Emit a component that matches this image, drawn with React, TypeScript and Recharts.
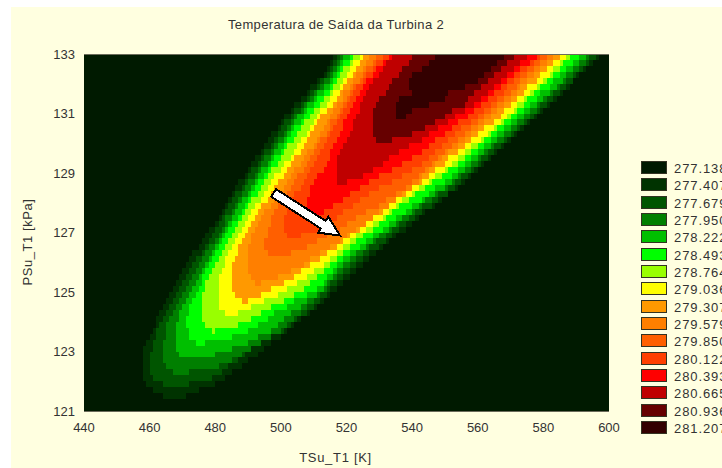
import { Bar, BarChart, CartesianGrid, ReferenceLine, XAxis, YAxis } from 'recharts'

const TITLE = 'Temperatura de Saída da Turbina 2'
const X_TICKS = [440, 460, 480, 500, 520, 540, 560, 580, 600]
const Y_TICKS = [121, 123, 125, 127, 129, 131, 133]

const LEGEND_LABELS = ['277.138', '277.407', '277.679', '277.950', '278.222', '278.493', '278.764', '279.036', '279.307', '279.579', '279.850', '280.122', '280.393', '280.665', '280.936', '281.207']
const LEGEND_COLORS = ['#001a00', '#003300', '#005500', '#007f00', '#00bf00', '#00ff00', '#99ff00', '#ffff00', '#ff9900', '#ff7f00', '#ff5f00', '#ff3f00', '#ff0000', '#bf0000', '#660000', '#330000']

// grid rows, top to bottom [kPa]
const PRESSURE = [
  132.9, 132.7, 132.5, 132.3, 132.1, 131.9, 131.7, 131.5, 131.3, 131.1,
  130.9, 130.7, 130.5, 130.3, 130.1, 129.9, 129.7, 129.5, 129.3, 129.1,
  128.9, 128.7, 128.5, 128.3, 128.1, 127.9, 127.7, 127.5, 127.3, 127.1,
  126.9, 126.7, 126.5, 126.3, 126.1, 125.9, 125.7, 125.5, 125.3, 125.1,
  124.9, 124.7, 124.5, 124.3, 124.1, 123.9, 123.7, 123.5, 123.3, 123.1,
  122.9, 122.7, 122.5, 122.3, 122.1, 121.9, 121.7, 121.5, 121.3, 121.1,
]

// contour limits per row [K], each band starts at the top row
const B1_LEFT = [516, 515, 514, 513, 511, 509, 508, 506, 504, 503, 501, 500, 499, 497, 496, 495, 494, 492, 491, 490, 489, 487, 486, 485, 484, 483, 482, 481, 480, 478, 477, 476, 475, 473, 472, 471, 470, 469, 468, 467, 466, 465, 464, 463, 462, 462, 461, 460, 459, 458, 458, 458, 458, 458, 458, 459, 461, 464]
const B1_RIGHT = [597, 595, 593, 591, 589, 588, 586, 584, 582, 580, 578, 576, 574, 572, 570, 568, 566, 564, 562, 560, 558, 556, 554, 551, 549, 547, 544, 542, 540, 538, 535, 533, 531, 529, 527, 525, 523, 521, 519, 517, 515, 513, 511, 509, 506, 504, 502, 500, 497, 495, 493, 490, 488, 485, 483, 480, 475, 471]
const B2_LEFT = [517, 516, 515, 514, 512, 511, 509, 508, 506, 504, 503, 501, 500, 499, 498, 497, 495, 494, 493, 491, 490, 489, 488, 486, 485, 484, 483, 482, 481, 480, 479, 478, 477, 476, 474, 473, 472, 471, 470, 469, 468, 467, 466, 465, 464, 463, 462, 462, 461, 461, 460, 460, 460, 460, 461, 464]
const B2_RIGHT = [596, 594, 592, 590, 589, 587, 585, 583, 581, 579, 577, 575, 573, 571, 569, 567, 565, 563, 561, 559, 557, 555, 553, 551, 548, 546, 543, 541, 538, 536, 534, 532, 530, 527, 525, 523, 521, 519, 517, 515, 514, 512, 510, 508, 505, 503, 501, 497, 494, 491, 489, 487, 484, 482, 479, 472]
const B3_LEFT = [518, 517, 516, 515, 513, 512, 510, 509, 507, 506, 504, 503, 502, 501, 499, 498, 497, 495, 494, 493, 492, 490, 489, 488, 487, 486, 485, 483, 483, 482, 481, 480, 478, 477, 476, 475, 474, 473, 472, 471, 470, 469, 468, 467, 466, 465, 465, 465, 464, 464, 464, 464, 465, 467]
const B3_RIGHT = [594, 593, 591, 589, 587, 585, 583, 581, 579, 578, 576, 574, 572, 570, 568, 565, 563, 561, 560, 558, 555, 553, 551, 548, 546, 543, 541, 539, 536, 534, 532, 529, 527, 525, 523, 521, 519, 517, 515, 514, 512, 510, 508, 506, 504, 502, 500, 497, 494, 491, 488, 485, 481, 472]
const B4_LEFT = [519, 518, 517, 516, 515, 513, 511, 510, 508, 507, 505, 504, 503, 502, 501, 499, 498, 497, 496, 494, 493, 492, 491, 490, 488, 487, 486, 485, 484, 483, 482, 481, 480, 479, 478, 477, 476, 475, 474, 473, 472, 471, 470, 469, 469, 468, 468, 468, 468, 468, 469]
const B4_RIGHT = [593, 591, 589, 587, 586, 584, 582, 580, 578, 576, 574, 572, 570, 568, 566, 564, 562, 560, 558, 556, 554, 552, 550, 547, 544, 542, 540, 537, 535, 533, 530, 528, 526, 523, 521, 519, 517, 516, 514, 513, 511, 508, 506, 503, 501, 499, 497, 493, 490, 485, 480]
const B5_LEFT = [521, 519, 518, 517, 516, 515, 513, 511, 510, 508, 507, 506, 504, 503, 502, 501, 500, 498, 497, 496, 495, 493, 492, 491, 490, 489, 488, 487, 485, 484, 483, 482, 481, 480, 479, 478, 477, 476, 476, 475, 474, 473, 472, 472, 471, 471, 472, 472, 474]
const B5_RIGHT = [591, 589, 587, 585, 583, 582, 579, 578, 576, 574, 572, 570, 568, 566, 564, 562, 560, 558, 556, 554, 552, 550, 547, 545, 543, 540, 538, 535, 533, 531, 528, 526, 524, 521, 519, 517, 516, 514, 513, 511, 508, 504, 502, 498, 496, 493, 490, 485, 477]
const B6_LEFT = [522, 521, 519, 518, 517, 516, 515, 513, 512, 510, 509, 507, 506, 505, 504, 502, 501, 500, 499, 497, 496, 495, 494, 493, 491, 490, 489, 488, 487, 486, 485, 484, 483, 482, 481, 480, 479, 478, 477, 477, 476, 476, 476, 476, 476, 477, 479]
const B6_RIGHT = [588, 586, 585, 583, 581, 579, 577, 575, 574, 572, 570, 568, 566, 564, 562, 560, 558, 556, 554, 551, 549, 546, 544, 541, 539, 536, 534, 532, 530, 528, 525, 523, 521, 519, 517, 515, 513, 511, 509, 507, 504, 501, 497, 494, 491, 487, 480]
const B7_LEFT = [524, 522, 521, 520, 519, 518, 516, 515, 514, 512, 511, 510, 509, 508, 506, 505, 504, 503, 501, 500, 498, 497, 496, 495, 494, 492, 491, 490, 489, 488, 487, 486, 485, 484, 483, 483, 482, 481, 481, 481, 481, 481, 481, 483]
const B7_RIGHT = [587, 585, 583, 582, 580, 578, 576, 574, 572, 571, 569, 567, 565, 563, 561, 558, 556, 554, 552, 550, 547, 545, 542, 540, 537, 535, 533, 531, 528, 526, 523, 521, 519, 517, 515, 513, 510, 508, 505, 502, 499, 495, 491, 487]
const B8_LEFT = [525, 524, 523, 522, 520, 519, 518, 517, 516, 514, 512, 511, 510, 509, 508, 507, 506, 504, 503, 502, 501, 499, 498, 497, 496, 494, 493, 492, 491, 490, 489, 488, 487, 487, 486, 485, 485, 485, 485, 485, 486, 488]
const B8_RIGHT = [585, 583, 581, 579, 578, 575, 574, 572, 570, 568, 567, 565, 562, 560, 558, 556, 554, 551, 550, 547, 545, 543, 540, 538, 535, 533, 531, 528, 526, 524, 521, 519, 517, 514, 512, 509, 506, 504, 501, 497, 494, 490]
const B9_LEFT = [527, 526, 525, 523, 522, 521, 519, 519, 517, 516, 515, 514, 513, 512, 511, 510, 508, 507, 506, 504, 503, 502, 501, 499, 498, 497, 495, 494, 493, 492, 491, 491, 490, 490, 490, 490, 490, 491, 492]
const B9_RIGHT = [583, 581, 579, 577, 575, 573, 572, 570, 568, 566, 564, 562, 560, 558, 556, 554, 551, 549, 547, 545, 543, 542, 540, 537, 535, 533, 530, 528, 526, 523, 520, 518, 515, 512, 509, 507, 503, 499, 494]
const B10_LEFT = [529, 528, 526, 525, 524, 522, 521, 520, 519, 518, 517, 515, 515, 514, 512, 511, 510, 509, 508, 507, 505, 504, 503, 502, 501, 499, 498, 497, 497, 496, 496, 495, 495, 496]
const B10_RIGHT = [581, 579, 577, 575, 573, 572, 570, 568, 566, 564, 562, 560, 558, 556, 554, 552, 550, 548, 546, 544, 542, 540, 538, 535, 532, 530, 526, 523, 520, 518, 514, 511, 508, 503]
const B11_LEFT = [531, 529, 528, 526, 525, 523, 522, 521, 520, 519, 518, 517, 516, 515, 514, 513, 512, 511, 510, 509, 508, 507, 506, 504, 503, 502, 502, 501, 501, 501, 502]
const B11_RIGHT = [579, 577, 575, 573, 571, 569, 568, 566, 564, 562, 560, 558, 555, 553, 551, 549, 547, 545, 543, 540, 537, 534, 530, 527, 524, 522, 519, 517, 515, 512, 506]
const B12_LEFT = [533, 531, 529, 528, 526, 525, 524, 523, 522, 521, 520, 519, 519, 518, 517, 516, 515, 515, 514, 513, 511, 510, 509, 509, 508, 508, 509]
const B12_RIGHT = [578, 576, 573, 571, 569, 567, 565, 563, 561, 559, 557, 554, 552, 550, 547, 545, 543, 540, 537, 534, 530, 527, 524, 521, 519, 516, 513]
const B13_LEFT = [534, 532, 531, 530, 528, 527, 526, 525, 524, 524, 523, 522, 522, 521, 520, 519, 518, 517, 517, 517, 517, 517]
const B13_RIGHT = [575, 573, 571, 569, 567, 565, 563, 561, 559, 556, 553, 551, 548, 545, 543, 539, 536, 533, 531, 528, 525, 520]
const B14_LEFT = [540, 539, 537, 536, 534, 533, 532, 530, 529, 528, 528, 528, 528, 528, 529]
const B14_RIGHT = [571, 569, 567, 565, 563, 561, 559, 557, 556, 552, 550, 547, 544, 540, 534]
const B15_LEFT = [547, 545, 543, 540, 539, 539, 540, 536, 535, 535, 535]
const B15_RIGHT = [568, 566, 564, 562, 560, 556, 551, 550, 545, 540, 538]

const BANDS = [
  [B1_LEFT, B1_RIGHT], [B2_LEFT, B2_RIGHT], [B3_LEFT, B3_RIGHT], [B4_LEFT, B4_RIGHT], [B5_LEFT, B5_RIGHT],
  [B6_LEFT, B6_RIGHT], [B7_LEFT, B7_RIGHT], [B8_LEFT, B8_RIGHT], [B9_LEFT, B9_RIGHT], [B10_LEFT, B10_RIGHT],
  [B11_LEFT, B11_RIGHT], [B12_LEFT, B12_RIGHT], [B13_LEFT, B13_RIGHT], [B14_LEFT, B14_RIGHT], [B15_LEFT, B15_RIGHT],
]

// annotation arrow [K, kPa]
const ARROW_FROM = { x: 497.8, y: 128.33 }
const ARROW_TO = { x: 518, y: 126.9 }

const FONT = '"Liberation Sans", Arial, sans-serif'
const TEXT_COLOR = '#333333'
const FRAME_COLOR = '#6b6b5a'
const ROW_SIZE = 5.949

const chartData = PRESSURE.map((p, i) => {
  const row: Record<string, number | number[]> = { p }
  BANDS.forEach(([left, right], b) => {
    if (i < left.length) row[`b${b}`] = [left[i], right[i]]
  })
  return row
})

function ArrowShape({ x1, y1, x2, y2 }: any) {
  const len = Math.hypot(x2 - x1, y2 - y1)
  const ux = (x2 - x1) / len
  const uy = (y2 - y1) / len
  const at = (along: number, across: number) =>
    `${x1 + ux * along - uy * across},${y1 + uy * along + ux * across}`
  const neck = len - 20
  const points = [
    at(0, -4.5),
    at(neck, -4.5),
    at(neck, -9.5),
    at(len, 0),
    at(neck, 9.5),
    at(neck, 4.5),
    at(0, 4.5),
  ].join(' ')
  return <polygon points={points} fill="#ffffff" stroke="#000000" strokeWidth={2} strokeLinejoin="miter" />
}

function ColorLegend() {
  return (
    <div style={{ position: 'absolute', left: 641, top: 161, fontFamily: FONT, fontSize: 13, color: TEXT_COLOR }}>
      {LEGEND_LABELS.map((label, i) => (
        <div key={label} style={{ position: 'absolute', top: i * 17.33, left: 0, height: 13, whiteSpace: 'nowrap' }}>
          <span
            style={{
              position: 'absolute',
              left: 0,
              top: 0,
              width: 24,
              height: 11,
              background: LEGEND_COLORS[i],
              border: '1px solid #333322',
            }}
          />
          <span style={{ position: 'absolute', left: 33, top: 0, lineHeight: '15px', letterSpacing: 0.9 }}>{label}</span>
        </div>
      ))}
    </div>
  )
}

export default function App() {
  return (
    <div style={{ position: 'absolute', left: 0, top: 0, width: 722, height: 468, overflow: 'hidden', background: '#ffffff' }}>
      <div style={{ position: 'absolute', left: 11, top: 7, right: 0, bottom: 0, background: '#ffffe0' }} />
      <div
        style={{
          position: 'absolute',
          left: 0,
          width: 672,
          top: 17,
          textAlign: 'center',
          fontFamily: FONT,
          fontSize: 13,
          letterSpacing: 0.35,
          lineHeight: '16px',
          color: TEXT_COLOR,
        }}
      >
        {TITLE}
      </div>
      <div style={{ position: 'absolute', left: 0, top: 0, shapeRendering: 'crispEdges' }}>
        <BarChart
          width={722}
          height={468}
          layout="vertical"
          data={chartData}
          barGap={-ROW_SIZE}
          margin={{ top: 54.02, right: 113, bottom: 0, left: 0 }}
        >
          <CartesianGrid horizontal={false} vertical={false} fill={LEGEND_COLORS[0]} fillOpacity={1} />
          <XAxis
            type="number"
            domain={[440, 600]}
            ticks={X_TICKS}
            height={57}
            interval={0}
            allowDataOverflow
            tickLine={false}
            tickMargin={6}
            axisLine={{ stroke: FRAME_COLOR }}
            tick={{ fontFamily: FONT, fontSize: 13, fill: TEXT_COLOR }}
            label={{
              value: 'TSu_T1 [K]',
              position: 'insideBottom',
              offset: 6,
              dx: -11,
              style: { fontFamily: FONT, fontSize: 13, letterSpacing: 0.7, fill: TEXT_COLOR },
            }}
          />
          <YAxis
            type="number"
            dataKey="p"
            reversed
            domain={[121, 133]}
            ticks={Y_TICKS}
            width={84}
            interval={0}
            allowDataOverflow
            tickLine={false}
            tickMargin={3}
            axisLine={false}
            tick={{ fontFamily: FONT, fontSize: 13, fill: TEXT_COLOR }}
            label={{
              value: 'PSu_T1 [kPa]',
              angle: -90,
              position: 'insideLeft',
              offset: 27,
              dy: 9.5,
              style: { textAnchor: 'middle', fontFamily: FONT, fontSize: 13, letterSpacing: 0.55, fill: TEXT_COLOR },
            }}
          />
          {BANDS.map((_, b) => (
            <Bar key={b} dataKey={`b${b}`} fill={LEGEND_COLORS[b + 1]} barSize={ROW_SIZE} isAnimationActive={false} />
          ))}
          <ReferenceLine y={133} stroke={FRAME_COLOR} />
          <ReferenceLine
            segment={[ARROW_FROM, ARROW_TO]}
            shape={(props: any) => <ArrowShape {...props} />}
          />
        </BarChart>
      </div>
      <ColorLegend />
    </div>
  )
}
